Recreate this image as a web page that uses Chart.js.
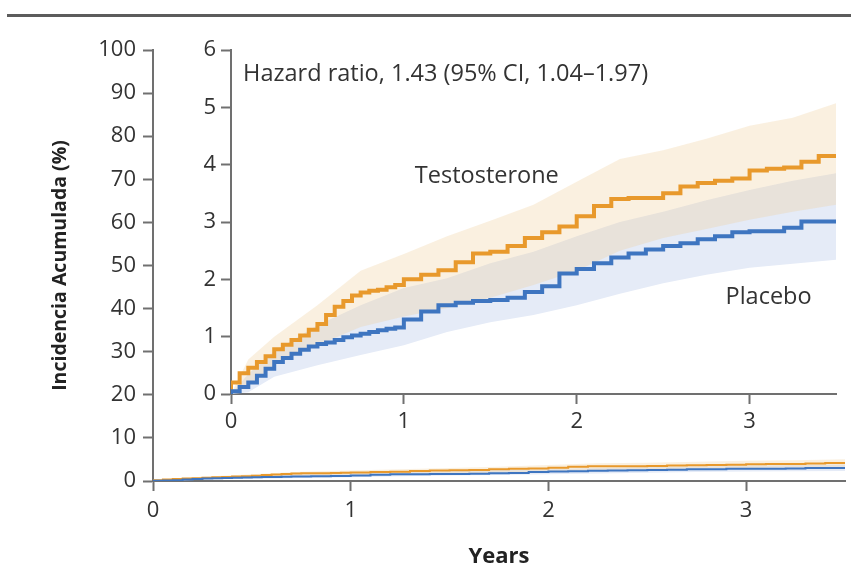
<!DOCTYPE html>
<html>
<head>
<meta charset="utf-8">
<script src="https://cdn.jsdelivr.net/npm/chart.js@4/dist/chart.umd.min.js"></script>
<style>
  html, body { margin: 0; padding: 0; background: #fff; }
  #lienzo { position: relative; width: 851px; height: 567px; overflow: hidden; }
  #regla { position: absolute; left: 7px; right: 0; top: 14px; height: 3px; background: #5c5c5c; }
  #grafico-total { position: absolute; left: 0; top: 0; }
  #grafico-detalle { position: absolute; left: 190px; top: 30px; }
</style>
</head>
<body>
<div id="lienzo">
  <div id="regla"></div>
  <canvas id="grafico-total" width="851" height="567"></canvas>
  <canvas id="grafico-detalle" width="651" height="400"></canvas>
</div>
<script>
// tiempos (años) de las curvas de Kaplan-Meier
const anios = [0, 0.05, 0.1, 0.15, 0.2, 0.25, 0.3, 0.35, 0.4, 0.45, 0.5, 0.55, 0.6, 0.65, 0.7, 0.75,
  0.8, 0.85, 0.9, 0.95, 1.0, 1.1, 1.2, 1.3, 1.4, 1.5, 1.6, 1.7, 1.8, 1.9, 2.0, 2.1, 2.2, 2.3, 2.4,
  2.5, 2.6, 2.7, 2.8, 2.9, 3.0, 3.1, 3.2, 3.3, 3.4, 3.5];

const testosterona = [0, 0.2, 0.36, 0.46, 0.56, 0.66, 0.78, 0.86, 0.94, 1.02, 1.12, 1.22, 1.38, 1.52,
  1.62, 1.72, 1.77, 1.80, 1.82, 1.86, 1.90, 2.00, 2.08, 2.16, 2.30, 2.45, 2.48, 2.58, 2.72, 2.82,
  2.92, 3.10, 3.28, 3.40, 3.42, 3.42, 3.50, 3.62, 3.68, 3.72, 3.76, 3.90, 3.93, 3.95, 4.05, 4.15];

const placebo = [0, 0.05, 0.12, 0.2, 0.32, 0.44, 0.56, 0.63, 0.7, 0.77, 0.83, 0.87, 0.9, 0.94, 0.99,
  1.02, 1.05, 1.08, 1.11, 1.14, 1.16, 1.30, 1.44, 1.55, 1.59, 1.62, 1.64, 1.68, 1.78, 1.88, 2.10,
  2.18, 2.28, 2.38, 2.45, 2.52, 2.58, 2.63, 2.70, 2.75, 2.82, 2.84, 2.84, 2.90, 3.01, 3.01];

// intervalos de confianza del 95%
const aniosBanda = [0, 0.1, 0.25, 0.5, 0.75, 1.0, 1.25, 1.5, 1.75, 2.0, 2.25, 2.5, 2.75, 3.0, 3.25, 3.5];
const testoInf = [0, 0.15, 0.5, 0.85, 1.17, 1.35, 1.5, 1.68, 1.9, 2.15, 2.5, 2.72, 2.88, 3.04, 3.18, 3.30];
const testoSup = [0, 0.6, 1.0, 1.55, 2.15, 2.44, 2.75, 3.02, 3.3, 3.7, 4.1, 4.25, 4.45, 4.68, 4.82, 5.07];
const placeboInf = [0, 0.03, 0.3, 0.5, 0.68, 0.85, 1.08, 1.25, 1.38, 1.55, 1.75, 1.93, 2.08, 2.2, 2.27, 2.34];
const placeboSup = [0, 0.35, 0.75, 1.2, 1.55, 1.85, 2.02, 2.28, 2.48, 2.75, 3.0, 3.18, 3.38, 3.56, 3.72, 3.85];

const ticksAnios = [0, 1, 2, 3];
const ticksTotal = [0, 10, 20, 30, 40, 50, 60, 70, 80, 90, 100];
const ticksDetalle = [0, 1, 2, 3, 4, 5, 6];

const FUENTE = "'Open Sans', Lato, sans-serif";
const GRIS_EJE = "#707070";
const GRIS_TEXTO = "#333333";
const NARANJA = "#E8992C";
const AZUL = "#3E75C0";

function puntos(xs, ys) {
  return xs.map((x, i) => ({ x: x, y: ys[i] }));
}

function crearDatasets(grosor) {
  return [
    { data: puntos(aniosBanda, placeboInf), borderWidth: 0, pointRadius: 0, fill: false, order: 2 },
    { data: puntos(aniosBanda, placeboSup), borderWidth: 0, pointRadius: 0, fill: 0,
      backgroundColor: "rgb(229, 235, 247)", order: 2 },
    { data: puntos(aniosBanda, testoInf), borderWidth: 0, pointRadius: 0, fill: false, order: 1 },
    { data: puntos(aniosBanda, testoSup), borderWidth: 0, pointRadius: 0, fill: 2,
      backgroundColor: "rgba(238, 205, 152, 0.3)", order: 1 },
    { label: "Placebo", data: puntos(anios, placebo), borderColor: AZUL, borderWidth: grosor,
      pointRadius: 0, stepped: "after", fill: false, order: 0 },
    { label: "Testosterone", data: puntos(anios, testosterona), borderColor: NARANJA, borderWidth: grosor,
      pointRadius: 0, stepped: "after", fill: false, order: 0 },
  ];
}

function ejeBase(valores, tamTicks, padTicks) {
  return {
    type: "linear",
    min: valores[0],
    max: valores[valores.length - 1],
    afterBuildTicks: (scale) => {
      scale.ticks = valores.map((v) => ({ value: v }));
    },
    ticks: {
      color: GRIS_TEXTO,
      font: { family: FUENTE, size: tamTicks },
      padding: padTicks,
    },
    grid: {
      drawOnChartArea: false,
      drawTicks: true,
      tickLength: 10,
      tickWidth: 2,
      tickColor: GRIS_EJE,
    },
    border: { display: true, color: GRIS_EJE, width: 2 },
  };
}

// gráfico principal (0-100 %)
const ejeXTotal = ejeBase(ticksAnios, 22, 7);
ejeXTotal.max = 3.5;
ejeXTotal.title = {
  display: true, text: "Years", color: "#222",
  font: { family: FUENTE, size: 22, weight: "bold" }, padding: { top: 0, bottom: -3 },
};
ejeXTotal.afterFit = (scale) => { scale.height = 86; };

const ejeYTotal = ejeBase(ticksTotal, 22, 7);
ejeYTotal.title = {
  display: true, text: "Incidencia Acumulada (%)", color: "#222",
  font: { family: FUENTE, size: 19.5, weight: "bold" }, padding: { top: 9, bottom: 0 },
};
ejeYTotal.afterFit = (scale) => { scale.width = 113; };

new Chart(document.getElementById("grafico-total"), {
  type: "line",
  data: { datasets: crearDatasets(2) },
  options: {
    responsive: false,
    animation: false,
    layout: { padding: { left: 40, top: 50, right: 6, bottom: 0 } },
    plugins: { legend: { display: false }, tooltip: { enabled: false } },
    scales: { x: ejeXTotal, y: ejeYTotal },
  },
});

// gráfico de detalle (0-6 %)
const anotaciones = [
  { texto: "Hazard ratio, 1.43 (95% CI, 1.04\u20131.97)", x: 0.07, y: 5.57, alinear: "left" },
  { texto: "Testosterone", x: 1.48, y: 3.79, alinear: "center" },
  { texto: "Placebo", x: 3.11, y: 1.68, alinear: "center" },
];

const pluginAnotaciones = {
  id: "anotaciones",
  afterDraw(chart) {
    const { ctx, scales } = chart;
    ctx.save();
    ctx.fillStyle = GRIS_TEXTO;
    ctx.font = "23.5px " + FUENTE;
    ctx.textBaseline = "middle";
    anotaciones.forEach((a) => {
      ctx.textAlign = a.alinear;
      ctx.fillText(a.texto, scales.x.getPixelForValue(a.x), scales.y.getPixelForValue(a.y));
    });
    ctx.restore();
  },
};

const ejeXDetalle = ejeBase(ticksAnios, 22, 5);
ejeXDetalle.max = 3.5;
ejeXDetalle.afterFit = (scale) => { scale.height = 36; };
const ejeYDetalle = ejeBase(ticksDetalle, 22, 5);
ejeYDetalle.afterFit = (scale) => { scale.width = 41; };

new Chart(document.getElementById("grafico-detalle"), {
  type: "line",
  data: { datasets: crearDatasets(4) },
  options: {
    responsive: false,
    animation: false,
    layout: { padding: { left: 0, top: 20, right: 5, bottom: 0 } },
    plugins: { legend: { display: false }, tooltip: { enabled: false } },
    scales: { x: ejeXDetalle, y: ejeYDetalle },
  },
  plugins: [pluginAnotaciones],
});
</script>
</body>
</html>
